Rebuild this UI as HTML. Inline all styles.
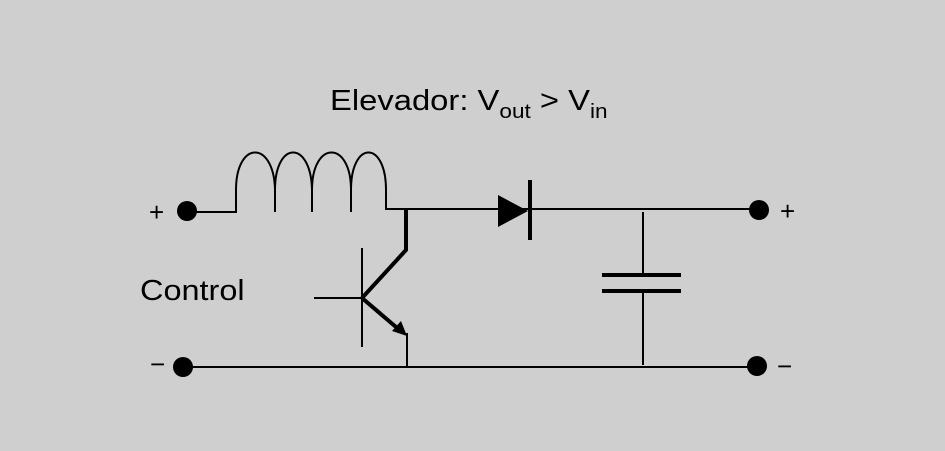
<!DOCTYPE html>
<html><head><style>
html,body{margin:0;padding:0;background:#cfcfcf;}
svg{display:block}
text{font-family:"Liberation Sans",sans-serif;fill:#000}
</style></head><body>
<svg width="945" height="451" viewBox="0 0 945 451">
<rect width="945" height="451" fill="#cfcfcf"/>
<text transform="translate(330 110) scale(1.13 1)" x="0" y="0" font-size="29">Elevador: V<tspan font-size="20" dy="8">out</tspan><tspan dy="-8"> &gt; V</tspan><tspan font-size="20" dy="8">in</tspan></text>
<g stroke="#000" fill="none" stroke-width="2">
<path d="M187 212 H236 V190 C236 140 274 140 275 190 V212 M275 190 C275 140 311 140 312 190 V212 M312 190 C312 140 351 140 351 190 V212 M351 190 C351 140 386 140 386 190 V209 H759"/>
<line x1="183" y1="367" x2="758" y2="367"/>
<line x1="643" y1="212" x2="643" y2="273"/>
<line x1="643" y1="292" x2="643" y2="365"/>
<line x1="362" y1="248" x2="362" y2="347"/>
<line x1="314" y1="298" x2="362" y2="298"/>
<line x1="407" y1="333" x2="407" y2="366"/>
</g>
<g stroke="#000" fill="none" stroke-width="4">
<path d="M406 208 V250 L362 298"/>
<line x1="362" y1="298" x2="396" y2="327"/>
<line x1="602" y1="275" x2="681" y2="275"/>
<line x1="602" y1="291" x2="681" y2="291"/>
<line x1="530" y1="180" x2="530" y2="240"/>
</g>
<polygon points="407,336 392,331 401,321" fill="#000"/>
<polygon points="498,195 498,227 528,211" fill="#000"/>
<circle cx="187" cy="211" r="10" fill="#000"/>
<circle cx="183" cy="367" r="10" fill="#000"/>
<circle cx="759" cy="210" r="10" fill="#000"/>
<circle cx="757" cy="366" r="10" fill="#000"/>
<text x="149" y="221" font-size="26">+</text>
<text x="780" y="220" font-size="26">+</text>
<text x="150" y="373" font-size="26">−</text>
<text x="777" y="375" font-size="26">−</text>
<text transform="translate(140 300) scale(1.12 1)" x="0" y="0" font-size="29">Control</text>
</svg>
</body></html>
